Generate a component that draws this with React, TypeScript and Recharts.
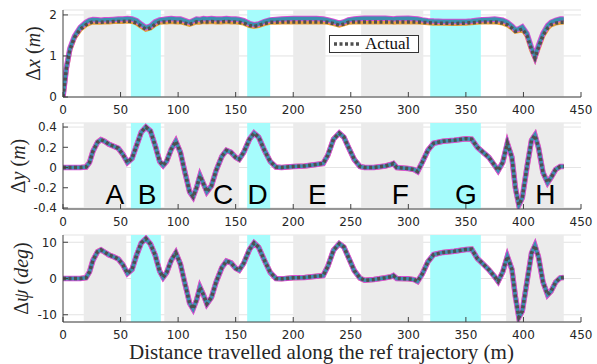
import { LineChart, Line, XAxis, YAxis, CartesianGrid, ReferenceArea, ReferenceDot } from 'recharts';

// distance along the reference trajectory (m)
const dist = [
  0, 3, 6, 10, 15, 20, 23, 26, 30, 33,
  36, 40, 44, 48, 52, 56, 60, 64, 68, 72,
  76, 80, 84, 87, 90, 94, 98, 102, 106, 110,
  113, 116, 119, 122, 125, 129, 133, 138, 142, 146,
  150, 153, 157, 162, 166, 170, 175, 180, 185, 190,
  200, 210, 220, 226, 230, 235, 240, 244, 248, 253,
  258, 262, 270, 280, 285, 287, 290, 300, 305, 308,
  312, 317, 322, 330, 340, 350, 355, 360, 364, 370,
  375, 378, 382, 386, 390, 393, 396, 399, 403, 407,
  410, 413, 417, 421, 424, 428, 432, 435,
];

const dxPred = [
  0, 0.72, 1.18, 1.48, 1.7, 1.82, 1.87, 1.89, 1.88, 1.87,
  1.88, 1.88, 1.89, 1.9, 1.9, 1.91, 1.9, 1.86, 1.77, 1.69,
  1.73, 1.83, 1.88, 1.89, 1.9, 1.91, 1.9, 1.9, 1.86, 1.82,
  1.86, 1.9, 1.89, 1.91, 1.9, 1.91, 1.9, 1.9, 1.91, 1.9,
  1.9, 1.89, 1.86, 1.79, 1.76, 1.78, 1.84, 1.88, 1.89, 1.9,
  1.91, 1.91, 1.91, 1.9, 1.88, 1.84, 1.8, 1.83, 1.88, 1.9,
  1.91, 1.92, 1.92, 1.92, 1.91, 1.9, 1.91, 1.92, 1.91, 1.9,
  1.88, 1.86, 1.85, 1.84, 1.84, 1.84, 1.85, 1.87, 1.88, 1.89,
  1.9, 1.89, 1.87, 1.82, 1.73, 1.64, 1.66, 1.71, 1.55, 1.2,
  0.98, 1.25, 1.55, 1.74, 1.82, 1.87, 1.9, 1.9,
];

const dxActual = [
  0, 0.7, 1.15, 1.45, 1.65, 1.76, 1.8, 1.83, 1.82, 1.82,
  1.83, 1.83, 1.84, 1.84, 1.84, 1.85, 1.84, 1.8, 1.72, 1.65,
  1.68, 1.77, 1.82, 1.83, 1.83, 1.84, 1.83, 1.83, 1.8, 1.77,
  1.8, 1.83, 1.82, 1.84, 1.83, 1.84, 1.83, 1.83, 1.84, 1.83,
  1.83, 1.82, 1.8, 1.74, 1.72, 1.74, 1.79, 1.82, 1.82, 1.83,
  1.83, 1.83, 1.83, 1.83, 1.82, 1.79, 1.75, 1.78, 1.82, 1.83,
  1.83, 1.83, 1.83, 1.83, 1.83, 1.82, 1.83, 1.83, 1.83, 1.83,
  1.82, 1.81, 1.8, 1.8, 1.79, 1.8, 1.81, 1.82, 1.83, 1.83,
  1.83, 1.82, 1.8, 1.76, 1.68, 1.6, 1.62, 1.66, 1.5, 1.15,
  0.95, 1.2, 1.5, 1.68, 1.76, 1.8, 1.82, 1.82,
];

const dy = [
  0, 0, 0, 0, 0, 0.005, 0.05, 0.16, 0.25, 0.275,
  0.26, 0.23, 0.21, 0.19, 0.13, 0.05, 0.09, 0.22, 0.35, 0.4,
  0.36, 0.22, 0.06, 0.02, 0.06, 0.18, 0.26, 0.15, -0.05, -0.24,
  -0.29, -0.2, -0.08, -0.16, -0.24, -0.18, -0.03, 0.11, 0.17, 0.15,
  0.1, 0.08, 0.15, 0.28, 0.34, 0.3, 0.17, 0.06, 0.005, 0,
  0.01, 0.015, 0.03, 0.04, 0.12, 0.28, 0.34, 0.3, 0.2, 0.08,
  0.01, 0, 0, 0.015, 0.03, 0.04, 0, -0.01, -0.02, -0.04,
  0.05, 0.17, 0.24, 0.26, 0.27, 0.285, 0.28, 0.2, 0.16, 0.1,
  0.02, -0.03, 0.05, 0.24, 0.1, -0.2, -0.37, -0.3, 0, 0.27,
  0.32, 0.2, -0.05, -0.15, -0.1, -0.02, 0.01, 0.01,
];

const dpsi = [
  0, 0, 0, 0, 0, 0.2, 1.8, 5, 7.4, 7.9,
  7.3, 6.5, 6, 5.4, 3.8, 1.4, 2.5, 6.5, 9.8, 11,
  9.5, 6.5, 2, 0.3, 1.6, 5, 7.1, 4, -1.5, -6.8,
  -8.4, -6, -2.4, -4.5, -7, -5.2, -1, 3, 4.8, 4.3,
  2.8, 2.3, 4.2, 8, 9.8, 8.6, 5, 1.7, 0, -0.1,
  0.2, 0.3, 0.6, 0.8, 3.3, 7.8, 9.6, 8.7, 5.8, 2.2,
  0.1, -0.5, -0.3, 0.2, 0.5, 0.8, 0, -0.1, -0.3, -0.8,
  1.2, 4.6, 6.6, 7.2, 7.5, 8, 8.1, 5.5, 4.3, 2.4,
  0.5, -0.8, 1.8, 6.1, 2.5, -5, -10.7, -9, -1, 7,
  9.1, 6, -1, -4.5, -3.5, -1, 0.2, 0.3,
];

const grayZones = [[18, 55], [88, 153], [200, 228], [259, 313], [385, 435]];
const cyanZones = [[59, 85], [160, 180], [319, 363]];
const letters = ['A', 'B', 'C', 'D', 'E', 'F', 'G', 'H'];
const letterX = [45, 73, 139, 169, 221, 293, 350, 419];
const xTicks = [0, 50, 100, 150, 200, 250, 300, 350, 400, 450];

const rows = dist.map((d, i) => ({ d, dxPred: dxPred[i], dxActual: dxActual[i], dy: dy[i], dpsi: dpsi[i] }));

const tickStyle = { fill: '#262626', fontSize: 12, fontFamily: 'DejaVu Sans, sans-serif' };
const serif = "'Liberation Serif', 'DejaVu Serif', serif";

function YTitle({ viewBox, parts, cx }: any) {
  const cy = viewBox.y + viewBox.height / 2;
  return (
    <text x={cx} y={cy} transform={`rotate(-90 ${cx} ${cy})`} textAnchor="middle" dominantBaseline="central"
      fontFamily={serif} fontSize={20} fill="#262626">
      {parts.map((p: any, i: number) => (
        <tspan key={i} fontStyle={p[1] ? 'italic' : 'normal'}>{p[0]}</tspan>
      ))}
    </text>
  );
}

function Panel({ top, height, marginTop, xAxisHeight, domain, ticks, predKey, actKey, title, titleX, extras }: any) {
  return (
    <div style={{ position: 'absolute', left: 0, top, width: 597, height }}>
      <LineChart width={597} height={height} data={rows} margin={{ top: marginTop, right: 16, bottom: 0, left: 0 }}>
        {grayZones.map((z, i) => (
          <ReferenceArea key={'g' + i} x1={z[0]} x2={z[1]} fill="#ebebeb" fillOpacity={1} stroke="none" />
        ))}
        {cyanZones.map((z, i) => (
          <ReferenceArea key={'c' + i} x1={z[0]} x2={z[1]} fill="#a6fcfc" fillOpacity={1} stroke="none" />
        ))}
        <CartesianGrid vertical={false} stroke="#dcdcdc" strokeWidth={0.8} />
        <XAxis dataKey="d" type="number" domain={[0, 450]} ticks={xTicks} height={xAxisHeight}
          tick={tickStyle} tickSize={-5} tickMargin={13} stroke="#404040" allowDataOverflow />
        <YAxis type="number" domain={domain} ticks={ticks} width={63} tick={tickStyle} tickSize={-5} tickMargin={11}
          stroke="#404040" allowDataOverflow label={<YTitle parts={title} cx={titleX} />} />
        <Line dataKey={actKey} stroke="#e8a23a" strokeWidth={5} dot={false} isAnimationActive={false} />
        <Line dataKey={predKey} stroke="#d64fd6" strokeWidth={5.5} dot={false} isAnimationActive={false} />
        <Line dataKey={predKey} stroke="#3c8fae" strokeWidth={3.5} dot={false} isAnimationActive={false} />
        <Line dataKey={actKey} stroke="#4f4f4f" strokeWidth={3.5} strokeDasharray="3 2.5" dot={false} isAnimationActive={false} />
        {extras}
      </LineChart>
    </div>
  );
}

export default function App() {
  const letterDots = letters.map((l, i) => (
    <ReferenceDot key={l} x={letterX[i]} y={-0.265} r={1} fill="none" stroke="none"
      label={{ value: l, position: 'center', fontSize: 28, fill: '#000', fontFamily: 'Liberation Sans, Arial, sans-serif' }} />
  ));
  return (
    <div style={{ position: 'absolute', left: 0, top: 0, width: 597, height: 364, background: '#fff' }}>
      <Panel top={0} height={117} marginTop={10} xAxisHeight={20} domain={[0, 2.12]} ticks={[0, 1, 2]}
        predKey="dxPred" actKey="dxActual" titleX={33}
        title={[['Δ', false], ['x', true], [' (', false], ['m', true], [')', false]]} />
      <Panel top={112} height={117} marginTop={11} xAxisHeight={20} domain={[-0.41, 0.44]} ticks={[-0.4, -0.2, 0, 0.2, 0.4]}
        predKey="dy" actKey="dy" titleX={18}
        title={[['Δ', false], ['y', true], [' (', false], ['m', true], [')', false]]}
        extras={letterDots} />
      <Panel top={225} height={139} marginTop={10} xAxisHeight={42} domain={[-12, 12]} ticks={[-10, 0, 10]}
        predKey="dpsi" actKey="dpsi" titleX={21}
        title={[['Δ', false], ['ψ', true], [' (', false], ['deg', true], [')', false]]} />
      <div style={{ position: 'absolute', left: 0, top: 340, width: 597, textAlign: 'center', paddingLeft: 46, boxSizing: 'border-box',
        fontFamily: serif, fontSize: 21, color: '#262626', lineHeight: '24px' }}>
        Distance travelled along the ref trajectory (m)
      </div>
      <div style={{ position: 'absolute', left: 329, top: 35, width: 88, height: 16, border: '1px solid #333', background: '#fff',
        display: 'flex', alignItems: 'center', fontFamily: serif, fontSize: 17, color: '#111' }}>
        <svg width={30} height={16} style={{ marginLeft: 3 }}>
          <line x1={1} y1={8} x2={28} y2={8} stroke="#4f4f4f" strokeWidth={3.5} strokeDasharray="3 2.5" />
        </svg>
        <span style={{ marginLeft: 2 }}>Actual</span>
      </div>
    </div>
  );
}
